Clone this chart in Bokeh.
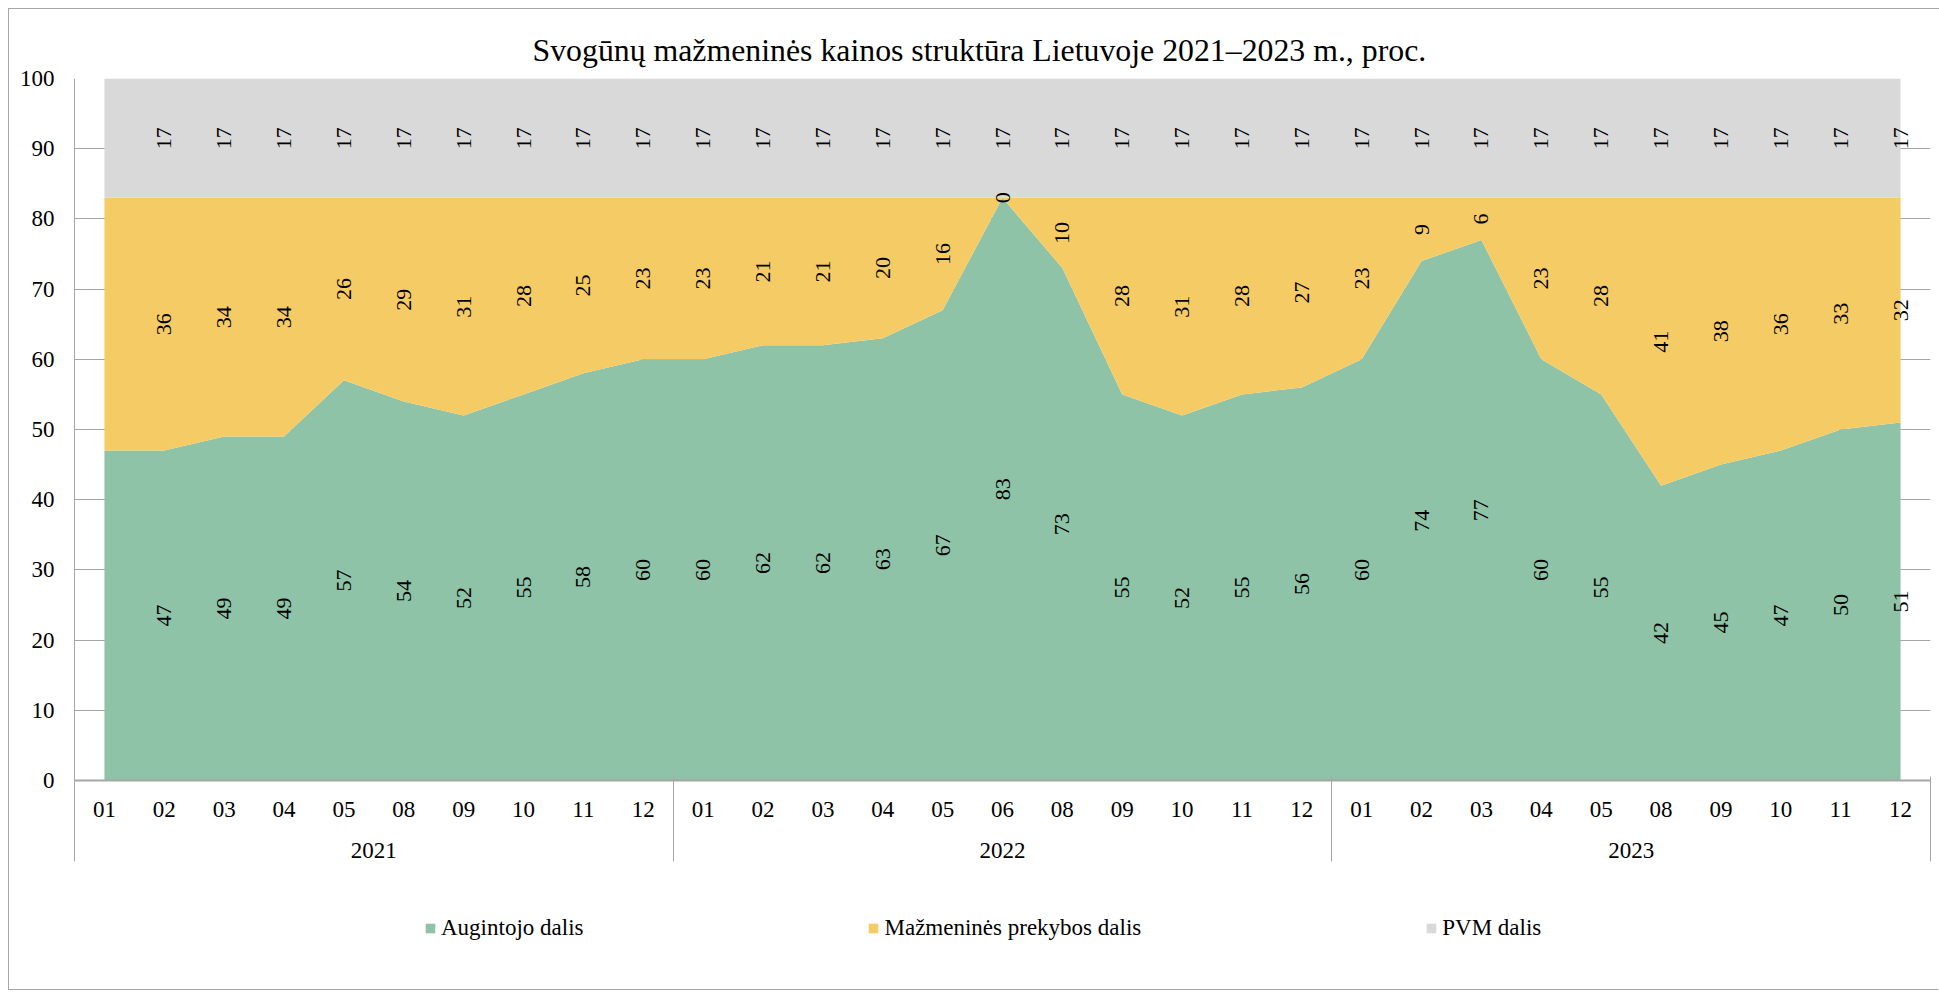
import math
from bokeh.plotting import figure
from bokeh.layouts import column
from bokeh.models import (FactorRange, Range1d, LinearAxis, FixedTicker, Legend,
                          LegendItem, ColumnDataSource, Title)
from bokeh.embed import file_html
from bokeh.resources import INLINE
from bokeh.core.properties import value

# ---------------- data ----------------
years = ["2021"] * 10 + ["2022"] * 11 + ["2023"] * 10
months = ["01", "02", "03", "04", "05", "08", "09", "10", "11", "12",
          "01", "02", "03", "04", "05", "06", "08", "09", "10", "11", "12",
          "01", "02", "03", "04", "05", "08", "09", "10", "11", "12"]
augintojo = [47, 47, 49, 49, 57, 54, 52, 55, 58, 60,
             60, 62, 62, 63, 67, 83, 73, 55, 52, 55, 56,
             60, 74, 77, 60, 55, 42, 45, 47, 50, 51]
prekybos = [36, 36, 34, 34, 26, 29, 31, 28, 25, 23,
            23, 21, 21, 20, 16, 0, 10, 28, 31, 28, 27,
            23, 9, 6, 23, 28, 41, 38, 36, 33, 32]
pvm = [17] * 31
series_names = ["Augintojo dalis", "Mažmeninės prekybos dalis", "PVM dalis"]
colors = ["#8EC3A7", "#F5CB66", "#D9D9D9"]
y_ticks = [0, 10, 20, 30, 40, 50, 60, 70, 80, 90, 100]
title_text = "Svogūnų mažmeninės kainos struktūra Lietuvoje 2021–2023 m., proc."

FONT = "Liberation Serif"
GRID = "#a6a6a6"

factors = list(zip(years, months))
src = ColumnDataSource(dict(x=factors, a=augintojo, b=prekybos, c=pvm))

p = figure(frame_width=1855, frame_height=701,
           x_range=FactorRange(*factors, group_padding=0, range_padding=0),
           y_range=Range1d(0, 100), x_axis_location=None,
           output_backend="svg", toolbar_location=None,
           min_border_left=65, min_border_right=10,
           min_border_top=69, min_border_bottom=86)
p.outline_line_color = None
p.background_fill_color = "white"
p.border_fill_color = "white"
p.styles = {"margin-left": "8px", "margin-top": "8px",
            "border-left": "1px solid #a6a6a6", "border-top": "1px solid #a6a6a6"}

renderers = p.varea_stack(stackers=["a", "b", "c"], x="x", color=colors, source=src)

# data labels (centre of each band), rotated
lx, ly, lt = [], [], []
for i in range(1, len(factors)):
    base = 0
    for vals in (augintojo, prekybos, pvm):
        v = vals[i]
        lx.append(factors[i])
        ly.append(base + v / 2)
        lt.append(str(v))
        base += v
lab_src = ColumnDataSource(dict(x=lx, y=ly, t=lt))
p.text(x="x", y="y", text="t", source=lab_src, angle=math.pi / 2,
       text_align="center", text_baseline="middle",
       text_font=value(FONT), text_font_size="22px", text_color="black")

# title
p.title = Title(text=title_text, align="left", text_font=FONT,
                text_font_size="31.8px", text_font_style="normal",
                text_color="black", offset=458, standoff=22)

# y axis
p.yaxis.ticker = FixedTicker(ticks=y_ticks)
p.yaxis.major_tick_out = 0
p.yaxis.major_tick_in = 0
p.yaxis.minor_tick_line_color = None
p.yaxis.axis_line_color = GRID
p.yaxis.major_label_standoff = 20
p.yaxis.major_label_text_font = FONT
p.yaxis.major_label_text_font_size = "23px"
p.yaxis.major_label_text_color = "black"
p.ygrid.ticker = FixedTicker(ticks=y_ticks)
p.ygrid.grid_line_color = GRID
p.xgrid.grid_line_color = None

# category positions on the factor range (synthetic coordinates)
month_pos = [i + 0.5 for i in range(len(factors))]
edges = [0]
for i in range(1, len(years)):
    if years[i] != years[i - 1]:
        edges.append(i)
edges.append(len(years))
year_pos = [(edges[k] + edges[k + 1]) / 2 for k in range(len(edges) - 1)]
year_names = [years[e] for e in edges[:-1]]


def overrides(pos, labels):
    d = {}
    for t, lab in zip(pos, labels):
        t = float(t)
        key = int(t) if t.is_integer() else t
        d[key] = lab
        d[f"{t:g}"] = lab
    return d


# month row
month_axis = LinearAxis(ticker=FixedTicker(ticks=month_pos, minor_ticks=[]),
                        major_label_overrides=overrides(month_pos, months),
                        major_tick_line_color=None, major_tick_in=0, major_tick_out=0,
                        minor_tick_line_color=None, minor_tick_in=0, minor_tick_out=0,
                        axis_line_color=GRID, axis_line_width=2,
                        major_label_standoff=21, major_label_text_font=FONT,
                        major_label_text_font_size="23px",
                        major_label_text_color="black")
p.add_layout(month_axis, "below")

# year row
year_axis = LinearAxis(ticker=FixedTicker(ticks=year_pos, minor_ticks=[]),
                       major_label_overrides=overrides(year_pos, year_names),
                       major_tick_line_color=None, major_tick_in=0, major_tick_out=0,
                       minor_tick_line_color=None, minor_tick_in=0, minor_tick_out=0,
                       axis_line_color=None,
                       major_label_standoff=23, major_label_text_font=FONT,
                       major_label_text_font_size="23px",
                       major_label_text_color="black")
p.add_layout(year_axis, "below")

# year separators: ticks reaching up to the frame bottom
SEP_UP = 84
sep_axis = LinearAxis(ticker=FixedTicker(ticks=edges, minor_ticks=[]),
                      major_tick_in=SEP_UP, major_tick_out=1,
                      major_tick_line_color=GRID, major_tick_line_width=1,
                      minor_tick_line_color=None, minor_tick_in=0, minor_tick_out=0,
                      axis_line_color=None, major_label_text_color=None,
                      major_label_standoff=0)
p.add_layout(sep_axis, "below")

# legend strip (separate figure below the chart, same colours / names)
lf = figure(width=1930, height=125, x_range=Range1d(0, 1), y_range=Range1d(0, 1),
            x_axis_location=None, y_axis_location=None,
            output_backend="svg", toolbar_location=None,
            min_border_left=0, min_border_right=0, min_border_top=0, min_border_bottom=0)
lf.outline_line_color = None
lf.grid.grid_line_color = None
lf.background_fill_color = "white"
lf.border_fill_color = "white"
lf.styles = {"margin-left": "8px",
             "border-left": "1px solid #a6a6a6", "border-bottom": "1px solid #a6a6a6"}
dummy = [lf.varea(x=[0, 1], y1=[2, 2], y2=[3, 3], color=c) for c in colors]
legend = Legend(items=[LegendItem(label=n, renderers=[r]) for n, r in zip(series_names, dummy)],
                location=(350, 49), orientation="horizontal",
                padding=0, margin=0, spacing=284, border_line_color=None,
                background_fill_alpha=0, glyph_width=12, glyph_height=12,
                label_standoff=5, label_text_font=FONT,
                label_text_font_size="23px", label_text_color="black")
lf.add_layout(legend, "center")

layout = column(p, lf, spacing=0)
open("out.html", "w").write(file_html(layout, INLINE))
